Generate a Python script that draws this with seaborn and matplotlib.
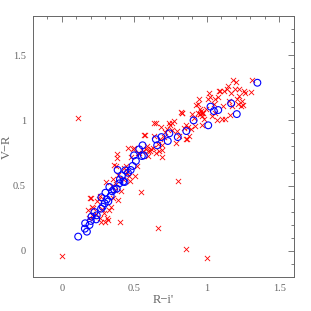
import numpy as np
import pandas as pd
import matplotlib
matplotlib.use("Agg")
import matplotlib.pyplot as plt
import seaborn as sns
from matplotlib.ticker import MultipleLocator

# red crosses: R-i', V-R
red_x = [0.000, 0.108, 0.178, 0.190, 0.199, 0.204, 0.217, 0.185, 0.213, 0.236,
         0.245, 0.254, 0.265, 0.279, 0.293, 0.304, 0.309, 0.320, 0.295, 0.270,
         0.259, 0.327, 0.336, 0.346, 0.350, 0.355, 0.364, 0.373, 0.362, 0.373,
         0.378, 0.382, 0.384, 0.389, 0.403, 0.410, 0.419, 0.428, 0.442, 0.449,
         0.455, 0.465, 0.471, 0.478, 0.487, 0.497, 0.506, 0.515, 0.524, 0.533,
         0.547, 0.556, 0.565, 0.574, 0.579, 0.584, 0.593, 0.597, 0.606, 0.613,
         0.625, 0.634, 0.638, 0.648, 0.648, 0.661, 0.670, 0.675, 0.684, 0.689,
         0.689, 0.693, 0.703, 0.712, 0.661, 0.725, 0.739, 0.748, 0.757, 0.762,
         0.771, 0.785, 0.794, 0.803, 0.808, 0.822, 0.826, 0.831, 0.844, 0.854,
         0.858, 0.865, 0.854, 0.872, 0.876, 0.888, 0.899, 0.911, 0.918, 0.927,
         0.936, 0.945, 0.954, 0.963, 0.968, 0.973, 0.982, 0.991, 1.000, 1.005,
         1.014, 1.023, 1.037, 1.048, 1.055, 1.059, 1.071, 1.078, 1.082, 1.092,
         1.101, 1.110, 1.119, 1.128, 1.137, 1.146, 1.151, 1.160, 1.169, 1.174,
         1.178, 1.192, 1.201, 1.208, 1.215, 1.220, 1.224, 1.238, 1.243, 1.247,
         1.256, 1.265, 1.302, 1.311, 0.950, 0.960, 0.940, 0.955, 0.965]
red_y = [-0.038, 1.015, 0.314, 0.408, 0.403, 0.337, 0.329, 0.255, 0.268, 0.281,
         0.383, 0.395, 0.421, 0.319, 0.293, 0.528, 0.255, 0.235, 0.222, 0.222,
         0.255, 0.314, 0.339, 0.497, 0.548, 0.408, 0.464, 0.510, 0.658, 0.651,
         0.740, 0.712, 0.582, 0.388, 0.219, 0.459, 0.548, 0.638, 0.651, 0.599,
         0.786, 0.574, 0.536, 0.722, 0.778, 0.791, 0.574, 0.651, 0.753, 0.753,
         0.452, 0.763, 0.885, 0.890, 0.778, 0.804, 0.765, 0.727, 0.765, 0.783,
         0.791, 0.982, 0.880, 0.977, 0.753, 0.816, 0.765, 0.855, 0.946, 0.773,
         0.719, 0.809, 0.870, 0.911, 0.176, 0.936, 0.977, 0.962, 0.982, 0.926,
         0.992, 0.829, 0.916, 0.533, 0.880, 1.064, 1.054, 1.059, 0.944, 0.962,
         0.855, 0.855, 0.018, 0.949, 0.880, 0.936, 1.046, 1.020, 0.957, 1.115,
         1.122, 1.161, 1.084, 1.033, 0.962, 1.059, 1.013, 1.084, -0.051, 1.166,
         1.207, 1.181, 1.033, 1.122, 1.059, 1.166, 1.003, 1.181, 1.224, 1.224,
         1.008, 1.110, 1.224, 1.013, 1.237, 1.263, 1.148, 1.038, 1.207, 1.110,
         1.306, 1.237, 1.293, 1.161, 1.122, 1.186, 1.237, 1.110, 1.148, 1.115,
         1.224, 1.207, 1.217, 1.309, 1.050, 1.070, 1.060, 1.045, 1.060]

# blue open circles
blue_x = [0.112, 0.160, 0.158, 0.172, 0.190, 0.199, 0.204, 0.224, 0.236, 0.240,
          0.270, 0.272, 0.281, 0.295, 0.300, 0.309, 0.320, 0.327, 0.336, 0.346,
          0.359, 0.378, 0.384, 0.396, 0.400, 0.414, 0.423, 0.432, 0.437, 0.455,
          0.474, 0.487, 0.497, 0.510, 0.533, 0.551, 0.556, 0.565, 0.648, 0.657,
          0.686, 0.730, 0.741, 0.799, 0.858, 0.908, 1.009, 1.025, 1.048, 1.078,
          1.167, 1.206, 1.348]
blue_y = [0.110, 0.212, 0.171, 0.148, 0.199, 0.230, 0.263, 0.298, 0.242, 0.273,
          0.324, 0.411, 0.339, 0.365, 0.446, 0.395, 0.380, 0.490, 0.421, 0.457,
          0.472, 0.477, 0.620, 0.518, 0.548, 0.579, 0.531, 0.528, 0.617, 0.599,
          0.620, 0.651, 0.732, 0.689, 0.778, 0.727, 0.809, 0.732, 0.855, 0.809,
          0.872, 0.842, 0.901, 0.872, 0.918, 1.000, 0.962, 1.105, 1.071, 1.079,
          1.130, 1.048, 1.288]

sns.set_style("white")
plt.rcParams['font.family'] = ['Liberation Serif', 'DejaVu Serif']

grey = '#666666'
fig = plt.figure(figsize=(3.11, 3.11), dpi=100)
ax = fig.add_axes([0.106, 0.109, 0.839, 0.840])

sns.scatterplot(x=red_x, y=red_y, marker='x', color='red', s=14,
                linewidth=0.6, ax=ax)
sns.scatterplot(x=blue_x, y=blue_y, marker='o', s=24, facecolor='none',
                edgecolor='blue', linewidth=0.8, ax=ax)

ax.set_xlim(-0.2, 1.6)
ax.set_ylim(-0.2, 1.8)
ax.xaxis.set_minor_locator(MultipleLocator(0.1))
ax.yaxis.set_minor_locator(MultipleLocator(0.1))
ax.set_xticks([0, 0.5, 1, 1.5])
ax.set_xticklabels(['0', '0.5', '1', '1.5'])
ax.set_yticks([0, 0.5, 1, 1.5])
ax.set_yticklabels(['0', '0.5', '1', '1.5'])
ax.tick_params(which='both', direction='in', top=True, right=True,
               color=grey, labelcolor=grey, labelsize=7.5, width=0.6)
ax.tick_params(which='major', length=4, pad=5)
ax.tick_params(which='minor', length=2)
for sp in ax.spines.values():
    sp.set_color(grey)
    sp.set_linewidth(0.7)

ax.set_xlabel("R\u2212i'", color=grey, fontsize=9, labelpad=1)
ax.set_ylabel("V\u2212R", color=grey, fontsize=9)
ax.yaxis.set_label_coords(-0.078, 0.5)

fig.savefig('out.png', dpi=100)
